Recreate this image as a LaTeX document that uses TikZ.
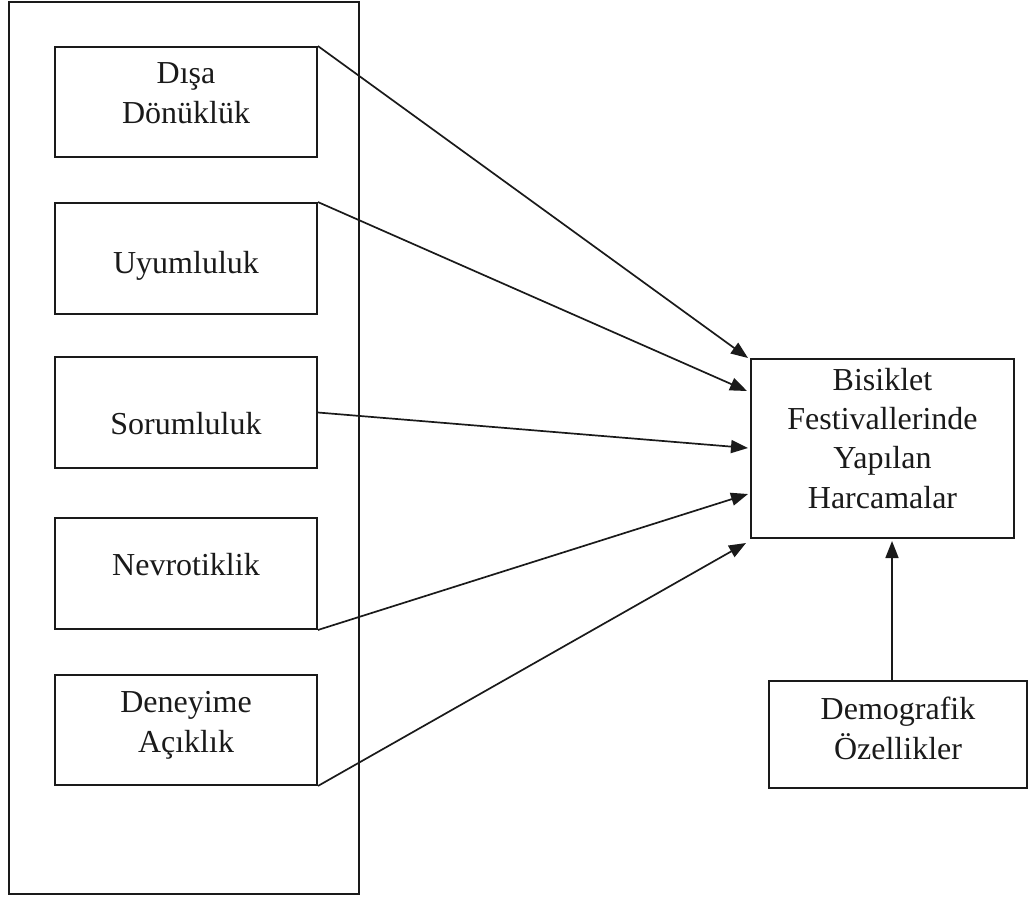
\documentclass[tikz,border=0pt]{standalone}
\usepackage{fontspec}
\setmainfont{Liberation Serif}
\usetikzlibrary{arrows.meta,calc}
\definecolor{ink}{HTML}{1A1A1A}
\begin{document}
\begin{tikzpicture}[x=1pt,y=-1pt,
  box/.style={draw=ink, line width=1.9pt, inner sep=0pt, rectangle},
  lbl/.style={font=\fontsize{32}{39.3}\selectfont, align=center, anchor=base, inner sep=0pt, text=ink},
  arr/.style={draw=ink, line width=1.7pt, -{Triangle[length=17pt,width=13pt]}}]
\useasboundingbox (0,0) rectangle (1033,898);
% frame
\node[box, minimum width=350, minimum height=892] (frame) at (184,448) {};
% left boxes
\node[box, minimum width=262, minimum height=110] (b1) at (186,102) {};
\node[box, minimum width=262, minimum height=111] (b2) at (186,258.5) {};
\node[box, minimum width=262, minimum height=111] (b3) at (186,412.5) {};
\node[box, minimum width=262, minimum height=111] (b4) at (186,573.5) {};
\node[box, minimum width=262, minimum height=110] (b5) at (186,730) {};
% right boxes
\node[box, minimum width=263, minimum height=179] (R) at (882.5,448.5) {};
\node[box, minimum width=258, minimum height=107] (D) at (898,734.5) {};
% labels (base anchor = baseline of the last line)
\node[lbl] (t1) at (186,123) {Dışa\\Dönüklük};
\node[lbl] (t2) at (186,273) {Uyumluluk};
\node[lbl] (t3) at (186,434) {Sorumluluk};
\node[lbl] (t4) at (186,575) {Nevrotiklik};
\node[lbl] (t5) at (186,752) {Deneyime\\Açıklık};
\node[lbl] (tR) at (882.5,508) {Bisiklet\\Festivallerinde\\Yapılan\\Harcamalar};
\node[lbl] (tD) at (898,759) {Demografik\\Özellikler};
% arrow end points
\coordinate (e1) at (748,358);
\coordinate (e2) at (747,391);
\coordinate (e3) at (748,448);
\coordinate (e4) at (748,494);
\coordinate (e5) at (746,543);
\coordinate (e6) at (892,541);
\draw[arr] (b1.north east) -- (e1);
\draw[arr] (b2.north east) -- (e2);
\draw[arr] (b3.east) -- (e3);
\draw[arr] (b4.south east) -- (e4);
\draw[arr] (b5.south east) -- (e5);
\draw[arr] (D.north -| e6) -- (e6);
\end{tikzpicture}
\end{document}
